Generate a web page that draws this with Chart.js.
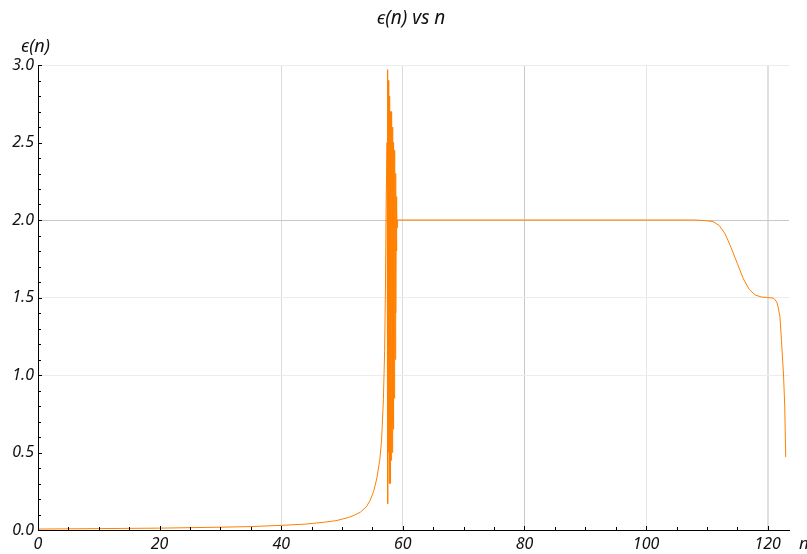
<!DOCTYPE html>
<html>
<head>
<meta charset="utf-8">
<script src="https://cdn.jsdelivr.net/npm/chart.js@4/dist/chart.umd.min.js"></script>
<style>
  html, body { margin: 0; padding: 0; background: #fff; }
  #wrap { width: 807px; height: 554px; position: relative; }
</style>
</head>
<body>
<div id="wrap"><canvas id="epsChart"></canvas></div>
<script>
// n values (x) and epsilon(n) values (y)
const nValues = [
  0, 10, 20, 30, 35, 40, 44, 47, 49, 51, 52, 53, 54, 54.6, 55.2, 55.7, 56.2, 56.5, 56.8, 57.0, 57.15, 57.25,
  57.40, 57.45, 57.50, 57.55, 57.60, 57.65, 57.70, 57.75, 57.80, 57.85, 57.90, 57.95,
  58.00, 58.05, 58.10, 58.15, 58.20, 58.25, 58.30, 58.35, 58.40, 58.45, 58.50, 58.55,
  58.60, 58.65, 58.70, 58.75, 58.80, 58.85, 58.90, 58.95, 59.00, 59.05, 59.10,
  60, 80, 100, 108, 110, 111, 112, 113, 114, 115, 116, 117, 118, 119, 120, 121, 121.5,
  121.7, 122.0, 122.25, 122.6, 122.8, 122.96
];
const epsValues = [
  0.006, 0.009, 0.012, 0.018, 0.022, 0.030, 0.038, 0.050, 0.060, 0.080, 0.095, 0.115, 0.150, 0.19, 0.25, 0.33, 0.45, 0.58, 0.84, 1.15, 1.6, 2.1,
  2.5, 0.9, 2.97, 0.17, 2.9, 0.5, 2.85, 0.3, 2.8, 0.35, 2.55, 0.3,
  2.7, 0.45, 2.68, 0.6, 2.7, 0.5, 2.6, 0.7, 2.5, 0.65, 2.5, 0.9,
  2.45, 0.85, 2.4, 1.1, 2.3, 1.4, 2.15, 1.8, 2.05, 1.95, 2.0,
  2.0, 2.0, 2.0, 2.0, 1.995, 1.99, 1.965, 1.91, 1.82, 1.72, 1.62, 1.55, 1.515, 1.503, 1.5, 1.495, 1.47,
  1.44, 1.38, 1.23, 1.0, 0.8, 0.47
];
const xTickLabels = [0, 20, 40, 60, 80, 100, 120];
const yTickLabels = ['0.0', '0.5', '1.0', '1.5', '2.0', '2.5', '3.0'];

const points = nValues.map((n, i) => ({ x: n, y: epsValues[i] }));

const FONT = '"Noto Sans", "DejaVu Sans", sans-serif';

// gridline colours by tick value
function xGridColor(v) {
  if (v === 80) return '#c8c8c8';
  if (v === 40 || v === 60) return '#dcdcdc';
  if (v === 100) return '#e6e6e6';
  if (v === 120) return '#e0e0e0';
  return 'rgba(0,0,0,0)';
}
function yGridColor(v) {
  if (Math.abs(v - 2) < 1e-6) return '#c8c8c8';
  if (Math.abs(v - 1) < 1e-6 || Math.abs(v - 1.5) < 1e-6 || Math.abs(v - 3) < 1e-6) return '#ececec';
  return 'rgba(0,0,0,0)';
}

// tick marks drawn inside the frame, plus title and axis labels
const decorations = {
  id: 'decorations',
  afterDraw(chart) {
    const ctx = chart.ctx;
    const x = chart.scales.x, y = chart.scales.y;
    const area = chart.chartArea;
    ctx.save();
    ctx.strokeStyle = '#000';
    ctx.lineWidth = 1;
    ctx.beginPath();
    for (let v = 0; v <= 120; v += 5) {
      const px = Math.round(x.getPixelForValue(v)) + 0.5;
      const len = v % 20 === 0 ? 4 : 3;
      ctx.moveTo(px, area.bottom);
      ctx.lineTo(px, area.bottom - len);
    }
    for (let i = 0; i <= 30; i++) {
      const py = Math.round(y.getPixelForValue(i / 10)) + 0.5;
      const len = i % 5 === 0 ? 4 : 3;
      ctx.moveTo(area.left, py);
      ctx.lineTo(area.left + len, py);
    }
    ctx.stroke();

    ctx.fillStyle = '#111';
    ctx.font = 'italic 19px ' + FONT;
    ctx.textAlign = 'center';
    ctx.textBaseline = 'middle';
    ctx.fillText('\u03F5(n) vs n', 411, 19);
    ctx.font = 'italic 18px ' + FONT;
    ctx.textAlign = 'left';
    ctx.fillText('\u03F5(n)', 21, 47);
    ctx.font = 'italic 17px ' + FONT;
    ctx.fillText('n', 799, 544);
    ctx.restore();
  }
};

const config = {
  type: 'line',
  data: {
    datasets: [{
      data: points,
      borderColor: 'rgb(255, 128, 0)',
      borderWidth: 1,
      pointRadius: 0,
      tension: 0,
      fill: false
    }]
  },
  options: {
    responsive: true,
    maintainAspectRatio: false,
    animation: false,
    layout: { padding: { top: 65, right: 18, left: 0, bottom: 0 } },
    plugins: {
      legend: { display: false },
      tooltip: { enabled: false },
      title: { display: false }
    },
    scales: {
      x: {
        type: 'linear',
        min: 0,
        max: 123.5,
        afterFit: (s) => { s.height = 24; },
        border: { color: '#000', width: 1 },
        grid: {
          drawTicks: false,
          color: (c) => xGridColor(c.tick.value),
          lineWidth: (c) => (c.tick.value === 120 ? 2 : 1)
        },
        afterBuildTicks: (s) => { s.ticks = xTickLabels.map(v => ({ value: v })); },
        ticks: {
          autoSkip: false,
          maxRotation: 0,
          padding: 5,
          color: '#111',
          font: { family: FONT, size: 16, style: 'italic' },
          callback: (v) => String(v)
        }
      },
      y: {
        min: 0,
        max: 3,
        afterFit: (s) => { s.width = 38; },
        border: { color: '#000', width: 1 },
        grid: {
          drawTicks: false,
          color: (c) => yGridColor(c.tick.value)
        },
        afterBuildTicks: (s) => { s.ticks = yTickLabels.map(t => ({ value: parseFloat(t) })); },
        ticks: {
          padding: 4,
          color: '#111',
          font: { family: FONT, size: 16, style: 'italic' },
          callback: (v) => Number(v).toFixed(1)
        }
      }
    }
  },
  plugins: [decorations]
};

const epsChart = new Chart(document.getElementById('epsChart'), config);
</script>
</body>
</html>
